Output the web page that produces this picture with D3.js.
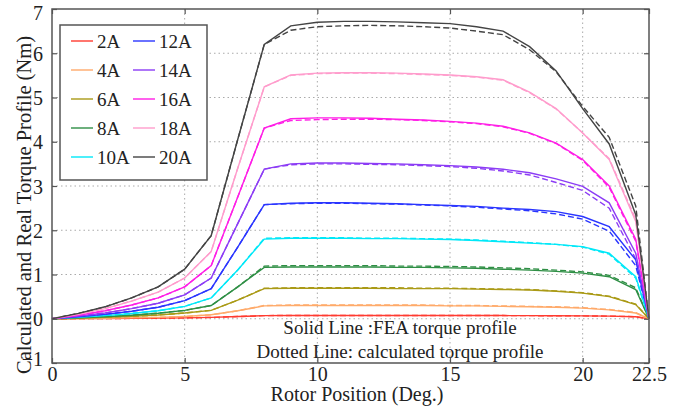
<!DOCTYPE html>
<html>
<head>
<meta charset="utf-8">
<script src="https://cdn.jsdelivr.net/npm/d3@7"></script>
<style>
  body { margin: 0; background: #fff; }
  svg { display: block; font-family: "Liberation Serif", "Times New Roman", serif; }
</style>
</head>
<body>
<svg width="685" height="406"></svg>
<script>
// rotor position (deg)
var positions = [0,1,2,3,4,5,6,7,8,9,10,11,12,13,14,15,16,17,18,19,20,21,22,22.5];

var currents = ["2A","4A","6A","8A","10A","12A","14A","16A","18A","20A"];
var colors = ["#ff3b30","#ffaa6a","#aa9a16","#2f8f45","#00e8f8","#2a35ff","#8c3cf5","#ff1ee6","#ff9ccc","#444444"];

// FEA torque profile (solid)
var fea2  = [0,0.002,0.005,0.008,0.013,0.02,0.03,0.05,0.07,0.075,0.075,0.075,0.075,0.075,0.075,0.074,0.073,0.072,0.07,0.068,0.065,0.06,0.045,0];
var fea4  = [0,0.005,0.012,0.02,0.032,0.05,0.09,0.18,0.29,0.3,0.3,0.3,0.3,0.3,0.3,0.29,0.29,0.28,0.27,0.26,0.24,0.2,0.13,0];
var fea6  = [0,0.012,0.03,0.055,0.085,0.13,0.19,0.42,0.68,0.69,0.69,0.69,0.69,0.68,0.68,0.68,0.67,0.66,0.65,0.62,0.58,0.5,0.32,0];
var fea8  = [0,0.02,0.045,0.08,0.125,0.19,0.3,0.72,1.16,1.17,1.17,1.17,1.17,1.16,1.16,1.15,1.14,1.12,1.1,1.07,1.03,0.95,0.66,0];
var fea10 = [0,0.03,0.07,0.12,0.18,0.28,0.47,1.1,1.8,1.82,1.82,1.82,1.81,1.81,1.8,1.79,1.77,1.74,1.71,1.68,1.63,1.48,0.95,0];
var fea12 = [0,0.045,0.1,0.17,0.26,0.41,0.68,1.62,2.58,2.61,2.62,2.62,2.61,2.6,2.58,2.56,2.54,2.5,2.47,2.42,2.31,2.08,1.33,0];
var fea14 = [0,0.06,0.13,0.23,0.35,0.54,0.92,2.15,3.38,3.5,3.52,3.52,3.51,3.5,3.48,3.46,3.43,3.38,3.3,3.16,2.99,2.62,1.48,0];
var fea16 = [0,0.08,0.18,0.31,0.47,0.72,1.2,2.75,4.31,4.52,4.54,4.54,4.53,4.51,4.49,4.46,4.42,4.35,4.2,3.97,3.6,3.0,1.8,0];
var fea18 = [0,0.1,0.23,0.4,0.6,0.92,1.52,3.4,5.24,5.51,5.55,5.56,5.56,5.55,5.53,5.51,5.47,5.4,5.12,4.75,4.2,3.6,2.2,0];
var fea20 = [0,0.12,0.27,0.47,0.72,1.12,1.88,4.05,6.2,6.62,6.7,6.72,6.72,6.71,6.69,6.67,6.6,6.5,6.15,5.6,4.75,3.95,2.35,0];

// calculated torque profile (dashed)
var calc2  = [0,0.002,0.005,0.008,0.013,0.02,0.03,0.05,0.07,0.075,0.075,0.075,0.075,0.075,0.075,0.074,0.073,0.072,0.07,0.068,0.065,0.06,0.045,0];
var calc4  = [0,0.005,0.012,0.02,0.032,0.05,0.09,0.18,0.3,0.31,0.31,0.31,0.31,0.31,0.31,0.3,0.3,0.29,0.28,0.27,0.25,0.21,0.14,0];
var calc6  = [0,0.012,0.03,0.055,0.085,0.13,0.19,0.42,0.69,0.7,0.7,0.7,0.7,0.7,0.69,0.69,0.68,0.67,0.66,0.63,0.59,0.51,0.33,0];
var calc8  = [0,0.02,0.045,0.08,0.125,0.19,0.3,0.72,1.19,1.2,1.2,1.2,1.2,1.19,1.19,1.18,1.17,1.15,1.13,1.1,1.06,0.98,0.7,0];
var calc10 = [0,0.03,0.07,0.12,0.18,0.28,0.47,1.1,1.82,1.83,1.83,1.83,1.82,1.82,1.81,1.8,1.78,1.75,1.72,1.68,1.62,1.46,0.92,0];
var calc12 = [0,0.045,0.1,0.17,0.26,0.41,0.68,1.62,2.58,2.6,2.61,2.61,2.6,2.59,2.57,2.55,2.52,2.48,2.44,2.37,2.25,1.98,1.2,0];
var calc14 = [0,0.06,0.13,0.23,0.35,0.54,0.92,2.15,3.38,3.48,3.5,3.5,3.49,3.48,3.46,3.44,3.4,3.34,3.25,3.08,2.9,2.5,1.35,0];
var calc16 = [0,0.08,0.18,0.31,0.47,0.72,1.2,2.75,4.31,4.48,4.5,4.51,4.51,4.5,4.48,4.45,4.41,4.34,4.19,3.96,3.58,2.97,1.75,0];
var calc18 = [0,0.1,0.23,0.4,0.6,0.92,1.52,3.4,5.24,5.5,5.54,5.55,5.55,5.54,5.52,5.5,5.46,5.39,5.11,4.74,4.2,3.62,2.25,0];
var calc20 = [0,0.12,0.27,0.47,0.72,1.12,1.88,4.05,6.2,6.52,6.6,6.62,6.63,6.62,6.6,6.57,6.5,6.42,6.08,5.58,4.8,4.1,2.55,0];

var feaSeries  = [fea2,fea4,fea6,fea8,fea10,fea12,fea14,fea16,fea18,fea20];
var calcSeries = [calc2,calc4,calc6,calc8,calc10,calc12,calc14,calc16,calc18,calc20];

var xTicks = [0,5,10,15,20,22.5];
var yTicks = [-1,0,1,2,3,4,5,6,7];

var svg = d3.select("svg");
svg.append("rect").attr("width",685).attr("height",406).attr("fill","#fff");

var pL = 52, pR = 649, pT = 9, pB = 363;
var x = d3.scaleLinear().domain([0,22.5]).range([pL,pR]);
var y = d3.scaleLinear().domain([-1,7]).range([pB,pT]);

// grid
var grid = svg.append("g").attr("stroke","#aaa").attr("stroke-width",1).attr("stroke-dasharray","1.5,3");
grid.selectAll(".gx").data([5,10,15,20]).enter().append("line")
  .attr("x1",function(d){return x(d);}).attr("x2",function(d){return x(d);})
  .attr("y1",pT).attr("y2",pB);
grid.selectAll(".gy").data([0,1,2,3,4,5,6]).enter().append("line")
  .attr("x1",pL).attr("x2",pR)
  .attr("y1",function(d){return y(d);}).attr("y2",function(d){return y(d);});

// curves
var line = d3.line()
  .x(function(d,i){return x(positions[i]);})
  .y(function(d){return y(d);});

var curves = svg.append("g").attr("fill","none").attr("stroke-width",1.4);
calcSeries.forEach(function(s,i){
  curves.append("path").attr("d",line(s)).attr("stroke",colors[i]).attr("stroke-dasharray","6,3");
});
feaSeries.forEach(function(s,i){
  curves.append("path").attr("d",line(s)).attr("stroke",colors[i]);
});

// axes (ticks inward, box)
var fs = 20;
var axB = svg.append("g").attr("transform","translate(0,"+pB+")")
  .call(d3.axisBottom(x).tickValues(xTicks).tickSize(-5).tickPadding(4).tickFormat(d3.format("")));
var axT = svg.append("g").attr("transform","translate(0,"+pT+")")
  .call(d3.axisTop(x).tickValues(xTicks).tickSize(-5).tickFormat(""));
var axL = svg.append("g").attr("transform","translate("+pL+",0)")
  .call(d3.axisLeft(y).tickValues(yTicks).tickSize(-5).tickPadding(9));
var axR = svg.append("g").attr("transform","translate("+pR+",0)")
  .call(d3.axisRight(y).tickValues(yTicks).tickSize(-5).tickFormat(""));
[axB,axT,axL,axR].forEach(function(a){
  a.select(".domain").remove();
  a.selectAll("line").attr("stroke","#555").attr("stroke-width",1.2);
  a.selectAll("text").attr("font-family","Liberation Serif, Times New Roman, serif").attr("font-size",fs).attr("fill","#222");
});
axB.selectAll("text").attr("dy","0.7em");
axL.selectAll("text").attr("dy","0.36em");
// -1 sits a little higher, clear of the x labels
axL.selectAll(".tick").filter(function(d){return d === -1;}).select("text").attr("dy","0.1em");
axL.selectAll(".tick").filter(function(d){return d === 7;}).select("text").attr("dy","0.5em");

svg.append("rect").attr("x",pL).attr("y",pT).attr("width",pR-pL).attr("height",pB-pT)
  .attr("fill","none").attr("stroke","#555").attr("stroke-width",1.5);

// legend
var lg = svg.append("g");
lg.append("rect").attr("x",60).attr("y",25).attr("width",147).attr("height",155)
  .attr("fill","#fff").attr("stroke","#555").attr("stroke-width",1.5);
currents.forEach(function(c,i){
  var col = Math.floor(i/5), row = i%5;
  var lx = 71 + col*62, ly = 41 + row*29;
  lg.append("line").attr("x1",lx).attr("x2",lx+22).attr("y1",ly).attr("y2",ly)
    .attr("stroke",colors[i]).attr("stroke-width",1.4);
  lg.append("text").attr("x",lx+26).attr("y",ly).attr("dy","0.35em")
    .attr("font-size",19).attr("fill","#222").text(c);
});

// notes
svg.append("text").attr("x",400).attr("y",334).attr("text-anchor","middle")
  .attr("font-size",19).attr("fill","#222").text("Solid Line :FEA torque profile");
svg.append("text").attr("x",400).attr("y",358).attr("text-anchor","middle")
  .attr("font-size",19).attr("fill","#222").text("Dotted Line: calculated torque profile");

// axis titles
svg.append("text").attr("x",357).attr("y",401).attr("text-anchor","middle")
  .attr("font-size",20).attr("fill","#222").text("Rotor Position (Deg.)");
svg.append("text").attr("transform","translate(31,205) rotate(-90)").attr("text-anchor","middle")
  .attr("font-size",20.5).attr("fill","#222").text("Calculated and Real Torque Profile (Nm)");
</script>
</body>
</html>
